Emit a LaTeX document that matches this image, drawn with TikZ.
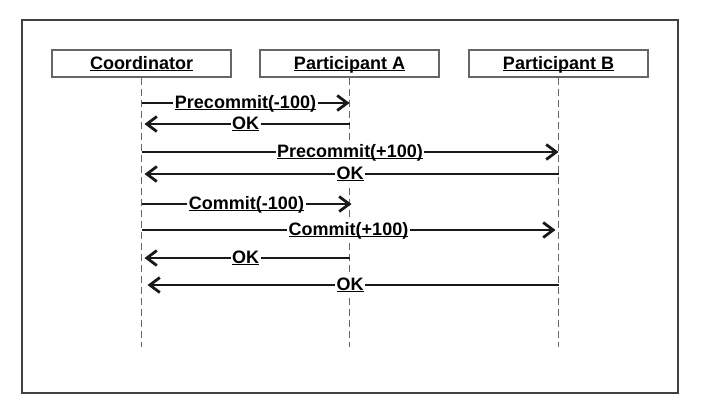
\documentclass[tikz,border=0pt]{standalone}
\usepackage{fontspec}
\setmainfont{Liberation Sans}
\usetikzlibrary{arrows.meta}

% subrayado a altura fija bajo la linea base
\newcommand{\ultext}[1]{\setbox0\hbox{#1}\rlap{\rule[-2.4pt]{\wd0}{1.5pt}}\box0}

\begin{document}
\begin{tikzpicture}[
  x=1pt, y=-1pt,
  actor/.style={draw=black!60, line width=1.8pt, fill=white, minimum width=179pt, minimum height=27pt, inner sep=0pt, text height=13pt, text depth=2pt, font=\fontsize{18}{20}\selectfont\bfseries},
  life/.style={draw=black!60, line width=1.3pt, dash pattern=on 7pt off 4pt},
  msg/.style={draw=black!90, line width=2.8pt, -{Straight Barb[length=10pt,width=15pt,line width=2.8pt]}},
  lbl/.style={fill=white, inner sep=1.5pt, text height=13pt, text depth=3pt, font=\fontsize{18}{20}\selectfont\bfseries}
]
  \useasboundingbox (0,0) rectangle (727,418);

  % Marco
  \draw[black!75, line width=2.2pt] (22,20) rectangle (678,393);

  % Participantes
  \node[actor] (coord) at (141.5,63.5) {\ultext{Coordinator}};
  \node[actor] (partA) at (349.5,63.5) {\ultext{Participant A}};
  \node[actor] (partB) at (558.5,63.5) {\ultext{Participant B}};

  % Lineas de vida
  \coordinate (coordEnd) at (141.5,347);
  \coordinate (partAEnd) at (349.5,347);
  \coordinate (partBEnd) at (558.5,347);
  \draw[life] (coord) -- (coordEnd);
  \draw[life] (partA) -- (partAEnd);
  \draw[life] (partB) -- (partBEnd);

  % Extremos de los mensajes
  \coordinate (c1) at (141.5,103); \coordinate (a1) at (349.5,103); % Precommit(-100)
  \coordinate (c2) at (141.5,124); \coordinate (a2) at (349.5,124); % OK
  \coordinate (c3) at (141.5,152); \coordinate (b3) at (558.5,152); % Precommit(+100)
  \coordinate (c4) at (141.5,174); \coordinate (b4) at (558.5,174); % OK
  \coordinate (c5) at (141.5,204); \coordinate (a5) at (351.5,204); % Commit(-100)
  \coordinate (c6) at (141.5,230); \coordinate (b6) at (555.5,230); % Commit(+100)
  \coordinate (c7) at (141.5,258); \coordinate (a7) at (349.5,258); % OK
  \coordinate (c8) at (141.5,285); \coordinate (b8) at (558.5,285); % OK

  % Mensajes
  \draw[msg] (c1) -- node[lbl] (m1) {\ultext{Precommit(-100)}} (a1);
  \draw[msg, shorten >=3pt] (a2) -- node[lbl] (m2) {\ultext{OK}} (c2);
  \draw[msg] (c3) -- node[lbl] (m3) {\ultext{Precommit(+100)}} (b3);
  \draw[msg, shorten >=3pt] (b4) -- node[lbl] (m4) {\ultext{OK}} (c4);
  \draw[msg] (c5) -- node[lbl] (m5) {\ultext{Commit(-100)}} (a5);
  \draw[msg] (c6) -- node[lbl] (m6) {\ultext{Commit(+100)}} (b6);
  \draw[msg, shorten >=3pt] (a7) -- node[lbl] (m7) {\ultext{OK}} (c7);
  \draw[msg, shorten >=6pt] (b8) -- node[lbl] (m8) {\ultext{OK}} (c8);
\end{tikzpicture}
\end{document}
